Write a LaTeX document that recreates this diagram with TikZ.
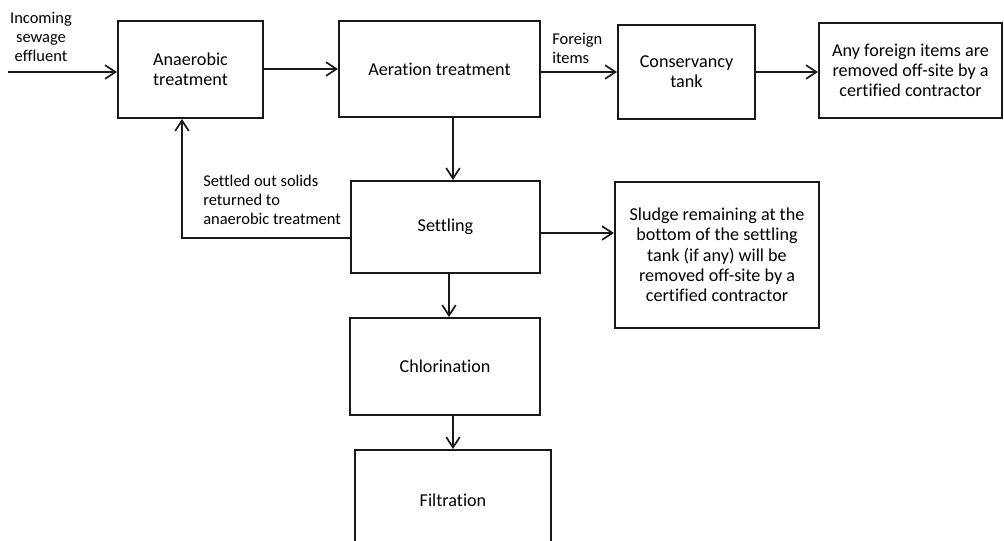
\documentclass[tikz,border=0pt]{standalone}
\usepackage{fontspec}
\setmainfont{Carlito}[Ligatures=NoCommon]
\usetikzlibrary{arrows.meta, calc}

\begin{document}
\begin{tikzpicture}[
    x=0.025cm,
    y=-0.025cm,
    stage/.style={rectangle, draw=black!90, line width=1.4pt, inner sep=2pt, align=center, font=\fontsize{12.9}{14.4}\selectfont},
    note/.style={inner sep=0pt, font=\fontsize{11.7}{13.5}\selectfont},
    flow/.style={draw=black!90, line width=1.4pt, -{Straight Barb[length=0.26cm, width=0.34cm, line width=1.2pt]}}
]

\clip (0,0) rectangle (1004,540);

% Treatment stages
\node[stage, minimum width=3.625cm, minimum height=2.425cm] (anaer) at (190.5,69.5) {Anaerobic\\treatment};
\node[stage, minimum width=5.025cm, minimum height=2.4cm] (aer) at (439.5,69) {Aeration treatment};
\node[stage, minimum width=3.425cm, minimum height=2.35cm] (cons) at (686.5,72) {Conservancy\\tank};
\node[stage, minimum width=4.575cm, minimum height=2.375cm] (foreign) at (910.5,70.5) {Any foreign items are\\removed off-site by a\\certified contractor};
\node[stage, minimum width=4.725cm, minimum height=2.3cm] (settl) at (445.5,227) {Settling};
\node[stage, minimum width=5.1cm, minimum height=3.65cm] (sludge) at (717,255) {Sludge remaining at the\\bottom of the settling\\tank (if any) will be\\removed off-site by a\\certified contractor};
\node[stage, minimum width=4.75cm, minimum height=2.425cm] (chlor) at (445,366.5) {Chlorination};
\node[stage, minimum width=4.9cm, minimum height=2.5cm] (filt) at (453,500) {Filtration};

% Labels
\node[note, align=center] (inlbl) at (41,37) {Incoming\\sewage\\effluent};
\node[note, align=left, anchor=west] (forlbl) at (552,48) {Foreign\\items};
\node[note, align=left, anchor=west] (retlbl) at (203,200) {Settled out solids\\returned to\\anaerobic treatment};

% Flows
\coordinate (src) at (8,72);
\coordinate (slout) at ($(settl.east)+(0,6)$);
\draw[flow] (src) -- (anaer.west |- src);
\draw[flow] (anaer.east |- aer.west) -- (aer.west);
\draw[flow] (aer.east |- cons.west) -- (cons.west);
\draw[flow] (cons.east) -- (foreign.west |- cons.east);
\draw[flow] ($(aer.south)+(13.5,0)$) -- ($(settl.north)+(7.5,0)$);
\draw[flow] ($(settl.west)+(0,11)$) -| ($(anaer.south)+(-8.5,0)$);
\draw[flow] (slout) -- (sludge.west |- slout);
\draw[flow] ($(settl.south)+(3.5,0)$) -- ($(chlor.north)+(4,0)$);
\draw[flow] (filt.north |- chlor.south) -- (filt.north);

\end{tikzpicture}
\end{document}
